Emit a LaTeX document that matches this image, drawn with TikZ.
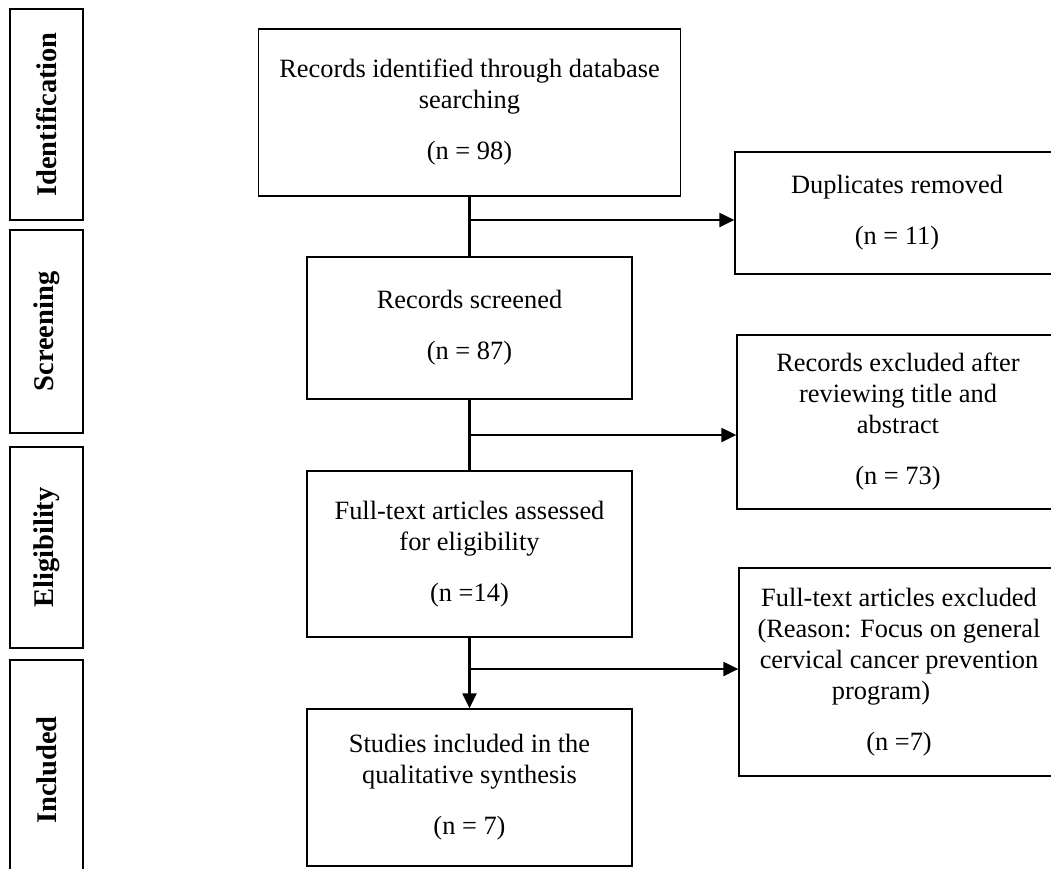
\documentclass[tikz,border=0pt]{standalone}
\usepackage{fontspec}
\setmainfont{Liberation Serif}
\usetikzlibrary{arrows.meta}
\begin{document}
\begin{tikzpicture}[x=1pt,y=-1pt,
 box/.style={draw, line width=1.3pt, align=center, inner sep=0pt, font=\fontsize{26.4}{31}\selectfont},
 stage/.style={draw, line width=1.3pt, rotate=90, font=\fontsize{28.5}{32}\selectfont\bfseries, inner sep=0pt},
 conn/.style={line width=2.2pt},
 arr/.style={conn, -{Triangle[length=15pt,width=14pt]}}]
\useasboundingbox (0,0) rectangle (1051,868);
% stage labels
\node[stage, minimum width=211pt, minimum height=73pt] (sid) at (46.5,114.5) {Identification};
\node[stage, minimum width=203pt, minimum height=73pt] (sscr) at (46.5,331.5) {Screening};
\node[stage, minimum width=201pt, minimum height=73pt] (selig) at (46.5,547.5) {Eligibility};
\node[stage, minimum width=220pt, minimum height=73pt] (sinc) at (46.5,770) {Included};
% main boxes
\node[box, minimum width=422pt, minimum height=167pt] (b1) at (469.5,112.5) {Records identified through database\\searching\\[20pt](n = 98)};
\node[box, minimum width=325pt, minimum height=142pt] (b2) at (469.5,328) {Records screened\\[20pt](n = 87)};
\node[box, minimum width=325pt, minimum height=166pt] (b3) at (469.5,554) {Full-text articles assessed\\for eligibility\\[20pt](n =14)};
\node[box, minimum width=325pt, minimum height=157pt] (b4) at (469.5,787.5) {Studies included in the\\qualitative synthesis\\[20pt](n = 7)};
% right boxes
\node[box, minimum width=324pt, minimum height=122pt] (r1) at (897,213) {Duplicates removed\\[20pt](n = 11)};
\node[box, minimum width=322pt, minimum height=174pt] (r2) at (898,422) {Records excluded after\\reviewing title and\\abstract\\[20pt](n = 73)};
\node[box, minimum width=320pt, minimum height=208pt] (r3) at (899,672) {Full-text articles excluded\\(Reason: Focus on general\\cervical cancer prevention\\program)\hbox to 36pt{}\\[20pt](n =7)};
% connectors
\draw[conn] (b1) -- (b2);
\coordinate (j1) at (469.5,220);
\draw[arr] (j1) -- (j1 -| r1.west);
\draw[conn] (b2) -- (b3);
\coordinate (j2) at (469.5,435);
\draw[arr] (j2) -- (j2 -| r2.west);
\draw[arr] (b3) -- (b4);
\coordinate (j3) at (469.5,669);
\draw[arr] (j3) -- (j3 -| r3.west);
\end{tikzpicture}
\end{document}
